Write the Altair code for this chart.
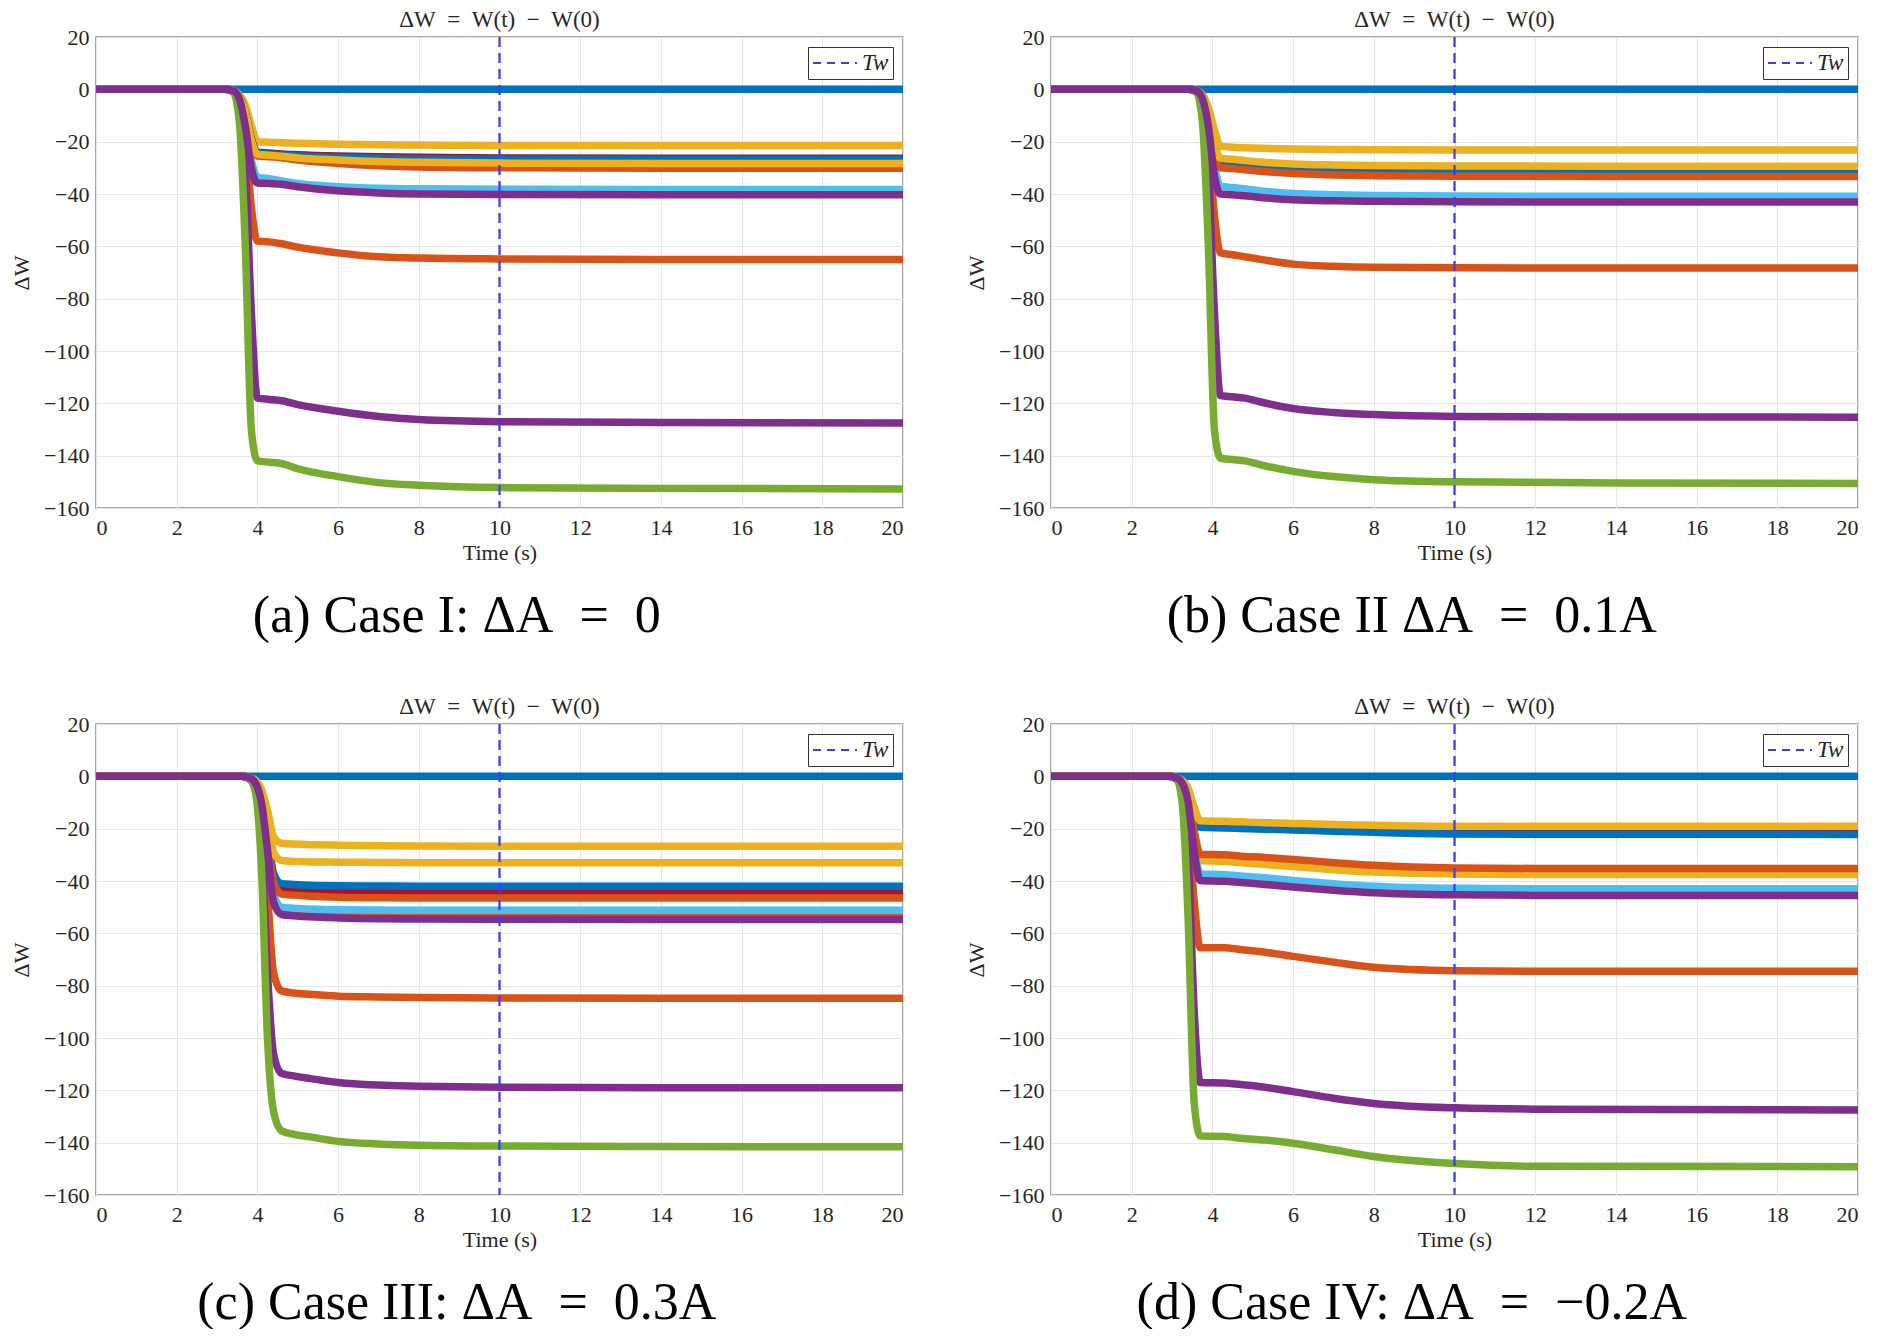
import altair as alt
import pandas as pd

FONT = "Liberation Serif"
MATLAB = ["#0072BD", "#D95319", "#EDB120", "#7E2F8E", "#77AC30", "#4DBEEE", "#A2142F"]

TITLE = "ΔW\u2002=\u2002W(t)\u2002−\u2002W(0)"
CAPTIONS = ["(a) Case I: ΔA\u2002=\u20020", "(b) Case II ΔA\u2002=\u20020.1A",
            "(c) Case III: ΔA\u2002=\u20020.3A", "(d) Case IV: ΔA\u2002=\u2002−0.2A"]
TW = 10
X_TICKS = list(range(0, 21, 2))
Y_TICKS = list(range(-160, 21, 20))

# ---------------- Panel (a) ----------------
TIMES_A = [0, 3.2, 3.4, 3.55, 3.7, 3.85, 4.0, 4.3, 4.6, 5.0, 6.0, 7.0, 8.0, 10.0, 14.0, 20.0]
COLORS_A = [0, 1, 2, 3, 4, 5, 6, 0, 1, 2, 3]
VALUES_A = [
    [0] * 16,
    [0, 0, -1, -4, -18, -45, -58, -58.3, -59, -60.3, -62.5, -64, -64.5, -64.8, -65, -65],
    [0, 0, -0.5, -2, -6, -14, -20, -20.2, -20.4, -20.6, -21, -21.2, -21.3, -21.5, -21.5, -21.5],
    [0, 0, -1, -6, -30, -85, -118, -118.5, -119, -120.5, -123, -125, -126.2, -127, -127.3, -127.5],
    [0, 0, -1, -12, -60, -130, -142, -142.5, -143, -145, -148, -150.3, -151.3, -152.2, -152.5, -152.7],
    [0, 0, -0.5, -3, -12, -27, -33.5, -34.2, -35, -36, -37.2, -37.8, -38, -38.2, -38.3, -38.3],
    [0, 0, -0.5, -2.5, -9, -19, -24, -24.3, -24.7, -25, -25.5, -25.8, -26, -26.2, -26.3, -26.3],
    [0, 0, -0.5, -2.5, -9, -19, -24.3, -24.7, -25.1, -25.5, -26, -26.3, -26.5, -26.7, -26.8, -26.8],
    [0, 0, -0.5, -2.5, -9.5, -20, -25.5, -25.8, -26.2, -27, -28.3, -29.2, -29.7, -30, -30.2, -30.2],
    [0, 0, -0.5, -2.5, -9, -19.5, -24.8, -25.2, -25.6, -26.2, -27, -27.6, -27.9, -28.2, -28.3, -28.3],
    [0, 0, -0.5, -3.5, -14, -30, -35.8, -36, -36.3, -37.2, -38.8, -39.6, -40, -40.2, -40.3, -40.3],
]

# ---------------- Panel (b) ----------------
TIMES_B = [0, 3.4, 3.6, 3.75, 3.9, 4.05, 4.2, 4.5, 4.8, 5.2, 6.0, 7.0, 8.0, 10.0, 14.0, 20.0]
COLORS_B = [0, 1, 2, 3, 4, 5, 6, 0, 1, 2, 3]
VALUES_B = [
    [0] * 16,
    [0, 0, -1, -5, -20, -48, -62.5, -63.2, -64, -65, -66.8, -67.6, -68, -68.2, -68.3, -68.3],
    [0, 0, -0.5, -2, -7, -15.5, -21.8, -22.1, -22.3, -22.5, -22.8, -23, -23.1, -23.2, -23.2, -23.2],
    [0, 0, -1, -6, -30, -85, -117, -117.5, -118, -119.5, -122, -123.5, -124.3, -125, -125.2, -125.3],
    [0, 0, -1, -12, -60, -130, -141, -141.5, -142, -143.5, -146, -148, -149.2, -150, -150.4, -150.6],
    [0, 0, -0.5, -3, -12, -29, -37, -37.5, -38, -38.8, -39.8, -40.3, -40.6, -40.8, -40.9, -40.9],
    [0, 0, -0.5, -2.5, -10, -23, -29, -29.4, -29.8, -30.3, -31, -31.3, -31.5, -31.6, -31.7, -31.7],
    [0, 0, -0.5, -2.5, -10, -22.5, -28.5, -29, -29.3, -29.8, -30.5, -30.9, -31.1, -31.3, -31.4, -31.4],
    [0, 0, -0.5, -2.5, -10.5, -24, -30, -30.3, -30.7, -31.3, -32.2, -32.7, -33, -33.2, -33.3, -33.3],
    [0, 0, -0.5, -2.5, -9, -20.5, -26.3, -26.7, -27.2, -27.8, -28.5, -28.9, -29.1, -29.3, -29.4, -29.4],
    [0, 0, -0.5, -3.5, -14, -33, -40, -40.3, -40.7, -41.3, -42.2, -42.6, -42.8, -43, -43.1, -43.1],
]

# ---------------- Panel (c) ----------------
TIMES_C = [0, 3.6, 3.8, 3.95, 4.1, 4.25, 4.4, 4.6, 4.9, 5.3, 6.0, 7.0, 8.0, 10.0, 14.0, 20.0]
COLORS_C = [0, 1, 2, 3, 4, 1, 5, 6, 0, 1, 2, 3]
VALUES_C = [
    [0] * 16,
    [0, 0, -1, -4, -15, -45, -75, -82, -82.8, -83.3, -84, -84.3, -84.5, -84.7, -84.8, -84.8],
    [0, 0, -0.5, -1.5, -5, -13, -23, -25.6, -25.9, -26.1, -26.3, -26.5, -26.6, -26.7, -26.7, -26.7],
    [0, 0, -1, -5, -25, -75, -106, -113.5, -114.5, -115.5, -117, -118, -118.4, -118.8, -119, -119],
    [0, 0, -1, -6, -35, -100, -128, -135.5, -136.8, -137.8, -139.5, -140.5, -141, -141.3, -141.5, -141.6],
    [0, 0, -0.5, -2.2, -9, -27, -46.5, -51.5, -52, -52.4, -52.7, -52.8, -52.9, -53, -53, -53],
    [0, 0, -0.5, -2, -8, -25, -45, -50, -50.4, -50.7, -51, -51.1, -51.2, -51.2, -51.2, -51.2],
    [0, 0, -0.5, -2, -7, -22, -39, -43, -43.4, -43.7, -44, -44.1, -44.2, -44.2, -44.2, -44.2],
    [0, 0, -0.5, -2, -7, -20, -37, -41, -41.3, -41.6, -41.8, -41.9, -42, -42, -42, -42],
    [0, 0, -0.5, -2, -7.5, -23, -40.5, -45, -45.4, -45.8, -46.2, -46.4, -46.5, -46.5, -46.5, -46.5],
    [0, 0, -0.5, -1.5, -6, -16, -29, -32.2, -32.5, -32.7, -32.8, -32.9, -33, -33, -33, -33],
    [0, 0, -0.5, -2.5, -10, -28, -48, -52.8, -53.3, -53.7, -54.1, -54.4, -54.5, -54.6, -54.7, -54.7],
]

# ---------------- Panel (d) ----------------
TIMES_D = [0, 2.9, 3.1, 3.25, 3.4, 3.55, 3.7, 4.3, 4.7, 5.3, 6.0, 7.0, 8.0, 10.0, 12.0, 20.0]
COLORS_D = [0, 1, 2, 3, 4, 5, 6, 0, 1, 2, 3]
VALUES_D = [
    [0] * 16,
    [0, 0, -1, -4, -18, -48, -65.5, -65.5, -66.2, -67.2, -68.8, -71, -73, -74.3, -74.5, -74.5],
    [0, 0, -0.5, -2, -8, -22, -32.2, -32.5, -33, -33.7, -34.5, -35.7, -36.6, -37.3, -37.5, -37.5],
    [0, 0, -1, -6, -30, -90, -117, -117.2, -117.8, -118.8, -120.5, -123, -125, -126.7, -127.2, -127.5],
    [0, 0, -1, -10, -55, -125, -137.5, -137.6, -138.3, -139, -140.2, -142.7, -145.3, -148, -149, -149.2],
    [0, 0, -0.5, -2, -9, -27, -37.3, -37.6, -38.1, -38.8, -39.8, -41, -42, -42.8, -43, -43],
    [0, 0, -0.5, -1.5, -5, -12.5, -17.8, -18, -18.2, -18.5, -18.8, -19.2, -19.5, -19.8, -19.9, -19.9],
    [0, 0, -0.5, -1.5, -6, -14, -19.5, -19.7, -19.9, -20.2, -20.5, -21, -21.4, -22, -22.1, -22.2],
    [0, 0, -0.5, -2, -8, -21, -29.8, -30, -30.5, -31, -31.8, -33, -34, -35, -35.2, -35.2],
    [0, 0, -0.5, -1.5, -5, -12, -17, -17.2, -17.4, -17.7, -18, -18.4, -18.7, -19.1, -19.1, -19.1],
    [0, 0, -0.5, -2.5, -10, -29, -39.8, -40.1, -40.6, -41.3, -42.3, -43.5, -44.5, -45.3, -45.5, -45.5],
]

W, H = 807, 471
FS = 22


def panel(times, colors, values, tag):
    rows = []
    for i, (c, vals) in enumerate(zip(colors, values)):
        for t, v in zip(times, vals):
            rows.append({"t": t, "w": v, "id": f"{tag}{i:02d}", "col": MATLAB[c]})
    df = pd.DataFrame(rows)
    x = alt.X("t:Q", scale=alt.Scale(domain=[0, 20], nice=False, zero=False),
              axis=alt.Axis(values=X_TICKS, title="Time (s)", format="d"))
    y = alt.Y("w:Q", scale=alt.Scale(domain=[-160, 20], nice=False, zero=False),
              axis=alt.Axis(values=Y_TICKS, title="ΔW", format="d"))
    lines = alt.Chart(df).mark_line(
        strokeWidth=7.5, interpolate="monotone", clip=True, strokeJoin="round"
    ).encode(x=x, y=y, color=alt.Color("col:N", scale=None), detail="id:N")
    rule = alt.Chart(pd.DataFrame({"t": [TW], "name": ["Tw"]})).mark_rule(
        strokeDash=[10, 6], strokeWidth=2.2
    ).encode(
        x=alt.X("t:Q"),
        stroke=alt.Stroke("name:N", scale=alt.Scale(domain=["Tw"], range=["#3b3bff"]),
                          legend=alt.Legend(title=None, orient="top-right", offset=10,
                                            padding=4, strokeColor="#333333",
                                            fillColor="white", cornerRadius=0,
                                            symbolType="M-1,0H3", symbolSize=484,
                                            symbolStrokeWidth=2, symbolDash=[8, 6],
                                            labelFont=FONT, labelFontSize=23,
                                            labelFontStyle="italic", labelOffset=26,
                                            labelColor="#262626")),
    )
    return alt.layer(lines, rule).properties(
        width=W, height=H,
        title=alt.TitleParams(TITLE, font=FONT, fontSize=23, fontWeight="normal",
                              color="#262626", anchor="middle", offset=-6, frame="group"),
    )


def wrap(ch, cap):
    return alt.vconcat(ch).properties(
        title=alt.TitleParams(cap, orient="bottom", anchor="middle", font=FONT,
                              fontSize=52, fontWeight="normal", color="black", offset=27)
    ).resolve_scale(stroke="independent").resolve_legend(stroke="independent")


pa = wrap(panel(TIMES_A, COLORS_A, VALUES_A, "a"), CAPTIONS[0])
pb = wrap(panel(TIMES_B, COLORS_B, VALUES_B, "b"), CAPTIONS[1])
pc = wrap(panel(TIMES_C, COLORS_C, VALUES_C, "c"), CAPTIONS[2])
pd_ = wrap(panel(TIMES_D, COLORS_D, VALUES_D, "d"), CAPTIONS[3])

row1 = alt.hconcat(pa, pb, spacing=60).resolve_scale(stroke="independent").resolve_legend(stroke="independent")
row2 = alt.hconcat(pc, pd_, spacing=60).resolve_scale(stroke="independent").resolve_legend(stroke="independent")

chart = alt.vconcat(row1, row2, spacing=53).resolve_scale(
    stroke="independent").resolve_legend(stroke="independent").properties(
    background="white", padding={"left": 1, "top": 0, "right": 0, "bottom": 0}
).configure_view(stroke="#8a8a8a", strokeWidth=1.5).configure_axis(
    grid=True, gridColor="#e6e6e6", gridWidth=1, ticks=False, domain=False,
    labelFont=FONT, labelFontSize=FS, labelColor="#262626",
    titleFont=FONT, titleFontSize=FS, titleFontWeight="normal", titleColor="#262626",
).configure_axisX(labelPadding=9, titlePadding=4).configure_axisY(labelPadding=7, titlePadding=10)

chart.save("out.html", embed_options={"renderer": "svg", "actions": False})
